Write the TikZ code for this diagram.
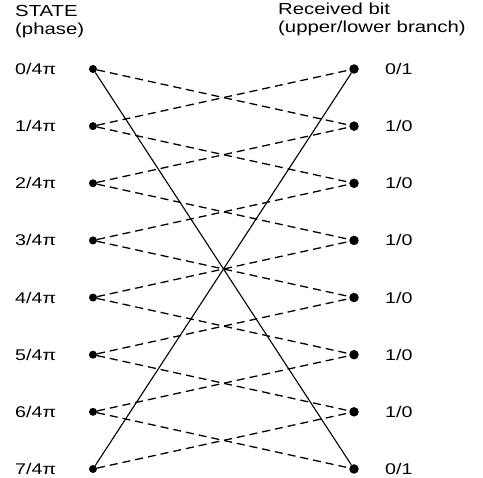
\documentclass[tikz,border=0pt]{standalone}
\usepackage{fontspec}
\setmainfont{Liberation Sans}[FakeStretch=1.27]
\begin{document}
\begin{tikzpicture}[x=1pt,y=-1pt,
  lbl/.style={font=\fontsize{15.5}{17}\selectfont, anchor=west, inner sep=0pt},
  hdr/.style={font=\fontsize{16}{18}\selectfont, anchor=north west, inner sep=0pt, align=left},
  st/.style={circle, fill=black, inner sep=0pt, minimum size=8pt},
  rx/.style={circle, fill=black, inner sep=0pt, minimum size=9.5pt},
  solidl/.style={line width=1.1pt},
  dashl/.style={line width=1.3pt, dash pattern=on 8pt off 5pt}]
\useasboundingbox (0,0) rectangle (483,478);
\node[hdr] (h1) at (15,5) {STATE\\(phase)};
\node[hdr] (h2) at (278,3) {Received bit\\(upper/lower branch)};
\foreach \i/\r in {0/{0/1},1/{1/0},2/{1/0},3/{1/0},4/{1/0},5/{1/0},6/{1/0},7/{0/1}} {
  \node[st] (L\i) at (93,69+57.14*\i) {};
  \node[rx] (R\i) at (354,69+57.14*\i) {};
  \node[lbl] (lt\i) at (15,69+57.14*\i) {\i/4π};
  \node[lbl] (rt\i) at (385,69+57.14*\i) {\r};
}
\draw[solidl] (L0) -- (R7);
\draw[solidl] (L7) -- (R0);
\foreach \i/\j in {0/1,1/0,1/2,2/1,2/3,3/2,3/4,4/3,4/5,5/4,5/6,6/5,6/7,7/6}
  \draw[dashl] (L\i) -- (R\j);
\end{tikzpicture}
\end{document}
